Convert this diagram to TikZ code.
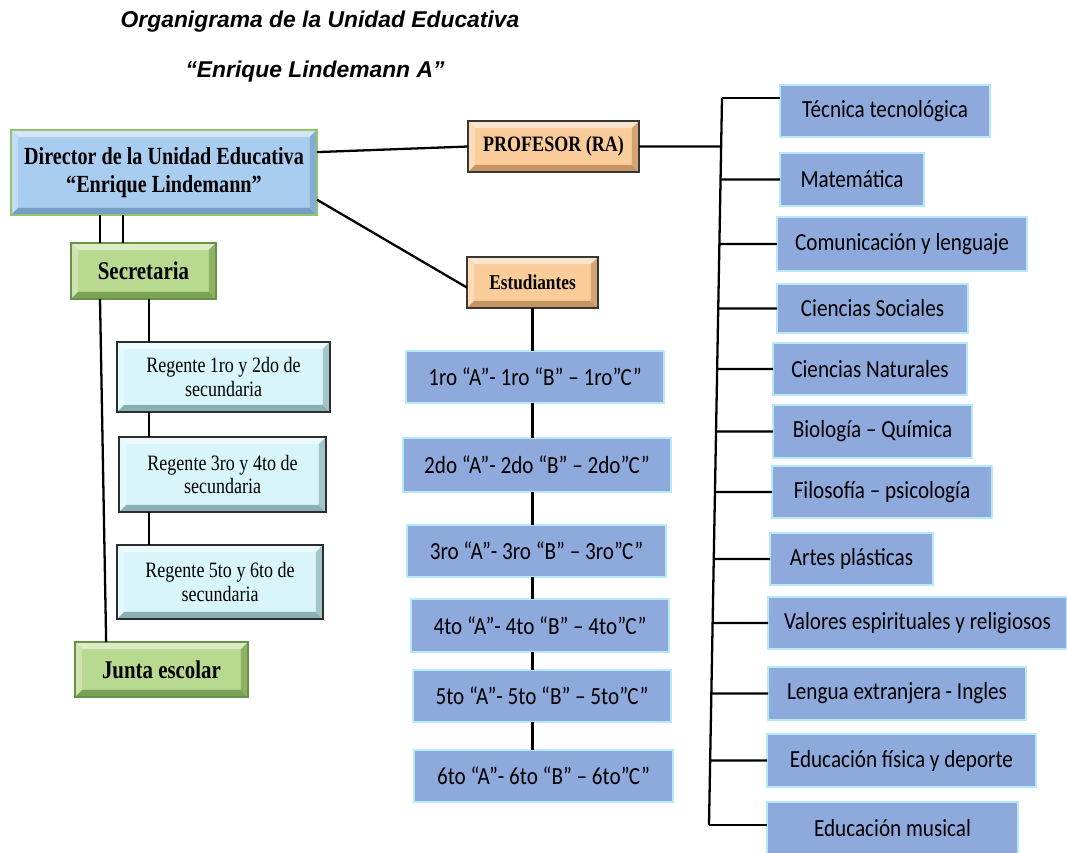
\documentclass[tikz,border=0pt]{standalone}
\usepackage{fontspec}
\usepackage{xcolor}
\usepackage{tikz}
\usetikzlibrary{calc,positioning}

\setmainfont{Liberation Serif}
\newfontfamily\orgserif[FakeStretch=0.82]{Liberation Serif}
\newfontfamily\orgcell[FakeStretch=0.86]{Carlito}
\newfontfamily\orgtitle{Liberation Sans}

\definecolor{dirfill}{RGB}{168,205,240}
\definecolor{dirline}{RGB}{146,198,110}
\definecolor{dirdark}{RGB}{118,158,196}
\definecolor{secfill}{RGB}{184,217,144}
\definecolor{secline}{RGB}{104,146,72}
\definecolor{secdark}{RGB}{122,162,86}
\definecolor{regfill}{RGB}{216,246,250}
\definecolor{regline}{RGB}{45,45,45}
\definecolor{regdark}{RGB}{138,176,180}
\definecolor{proffill}{RGB}{249,204,154}
\definecolor{profline}{RGB}{55,55,55}
\definecolor{profdark}{RGB}{196,148,98}
\definecolor{cellfill}{RGB}{142,169,219}
\definecolor{cellline}{RGB}{184,233,247}

\tikzset{
  bevel/.style n args={3}{draw=#1, fill=#2, line width=0.7pt, inner sep=0pt, outer sep=0pt, align=center,
    path picture={
      \path (path picture bounding box.north west) coordinate (bnw)
            (path picture bounding box.south east) coordinate (bse)
            (path picture bounding box.north east) coordinate (bne)
            (path picture bounding box.south west) coordinate (bsw);
      \fill[#2!50!white] (bnw) -- (bne) -- ($(bne)+(-4pt,-4pt)$) -- ($(bnw)+(4pt,-4pt)$) -- cycle;
      \fill[#2!70!white] (bnw) -- (bsw) -- ($(bsw)+(4pt,4pt)$) -- ($(bnw)+(4pt,-4pt)$) -- cycle;
      \fill[#3] (bsw) -- (bse) -- ($(bse)+(-4pt,4pt)$) -- ($(bsw)+(4pt,4pt)$) -- cycle;
      \fill[#3!70!#2] (bne) -- (bse) -- ($(bse)+(-4pt,4pt)$) -- ($(bne)+(-4pt,-4pt)$) -- cycle;
    }},
  headbox/.style={bevel={dirline}{dirfill}{dirdark}, font=\orgserif\bfseries\fontsize{14}{15.5}\selectfont},
  greenbox/.style={bevel={secline}{secfill}{secdark}, font=\orgserif\bfseries\fontsize{14.5}{16}\selectfont},
  regbox/.style={bevel={regline}{regfill}{regdark}, font=\orgserif\fontsize{12.5}{13.5}\selectfont},
  tanbox/.style={bevel={profline}{proffill}{profdark}, font=\orgserif\bfseries\fontsize{12.5}{14}\selectfont},
  cell/.style={draw=cellline, fill=cellfill, line width=0.8pt, inner sep=0pt, outer sep=0pt, font=\orgcell\fontsize{14}{16}\selectfont},
  link/.style={line width=1.3pt},
}

\begin{document}
\begin{tikzpicture}[x=0.02cm, y=-0.02cm]
    \useasboundingbox (0,0) rectangle (1067,852);

    \node [font=\orgtitle\bfseries\itshape\fontsize{13}{15}\selectfont] (title1) at (320,22) {Organigrama de la Unidad Educativa};
    \node [font=\orgtitle\bfseries\itshape\fontsize{13}{15}\selectfont] (title2) at (315,72) {“Enrique Lindemann A”};

    % left branch
    \node [headbox, minimum width=6.12cm, minimum height=1.7cm] (dir) at (164,172.5) {Director de la Unidad Educativa\\“Enrique Lindemann”};
    \node [greenbox, minimum width=2.9cm, minimum height=1.12cm] (sec) at (143.5,271) {Secretaria};
    \node [regbox, minimum width=4.26cm, minimum height=1.4cm] (reg1) at (223.5,377) {Regente 1ro y 2do de\\secundaria};
    \node [regbox, minimum width=4.14cm, minimum height=1.5cm] (reg2) at (222.5,474.5) {Regente 3ro y 4to de\\secundaria};
    \node [regbox, minimum width=4.12cm, minimum height=1.48cm] (reg3) at (220,582) {Regente 5to y 6to de\\secundaria};
    \node [greenbox, minimum width=3.46cm, minimum height=1.1cm] (jun) at (161.5,669.5) {Junta escolar};

    % middle
    \node [tanbox, minimum width=3.42cm, minimum height=1.02cm] (prof) at (553.5,146.5) {PROFESOR (RA)};
    \node [tanbox, minimum width=2.62cm, minimum height=1.02cm, font=\orgserif\bfseries\fontsize{12}{14}\selectfont] (est) at (532.5,282.5) {Estudiantes};

    \node [cell, minimum width=5.16cm, minimum height=1.04cm] (c1) at (535,377) {1ro “A”- 1ro “B” – 1ro”C”};
    \node [cell, minimum width=5.36cm, minimum height=1.08cm] (c2) at (537,465) {2do “A”- 2do “B” – 2do”C”};
    \node [cell, minimum width=5.18cm, minimum height=1.04cm] (c3) at (536.5,551) {3ro “A”- 3ro “B” – 3ro”C”};
    \node [cell, minimum width=5.16cm, minimum height=1.06cm] (c4) at (540,625.5) {4to “A”- 4to “B” – 4to”C”};
    \node [cell, minimum width=5.16cm, minimum height=1.04cm] (c5) at (542,696) {5to “A”- 5to “B” – 5to”C”};
    \node [cell, minimum width=5.18cm, minimum height=1.04cm] (c6) at (543.5,776) {6to “A”- 6to “B” – 6to”C”};

    % subjects
    \node [cell, minimum width=4.2cm, minimum height=1.04cm] (s1) at (885,111) {Técnica tecnológica};
    \node [cell, minimum width=2.88cm, minimum height=1.06cm] (s2) at (852,179.5) {Matemática};
    \node [cell, minimum width=5.0cm, minimum height=1.08cm] (s3) at (902,244) {Comunicación y lenguaje};
    \node [cell, minimum width=3.82cm, minimum height=0.98cm] (s4) at (872.5,308.5) {Ciencias Sociales};
    \node [cell, minimum width=3.88cm, minimum height=1.04cm] (s5) at (870,369) {Ciencias Naturales};
    \node [cell, minimum width=3.98cm, minimum height=1.06cm] (s6) at (872.5,431.5) {Biología – Química};
    \node [cell, minimum width=4.4cm, minimum height=1.04cm] (s7) at (882,492) {Filosofía – psicología};
    \node [cell, minimum width=3.26cm, minimum height=1.04cm] (s8) at (851.5,559) {Artes plásticas};
    \node [cell, minimum width=5.98cm, minimum height=1.04cm] (s9) at (917.5,623) {Valores espirituales y religiosos};
    \node [cell, minimum width=5.16cm, minimum height=1.06cm] (s10) at (897,693.5) {Lengua extranjera - Ingles};
    \node [cell, minimum width=5.38cm, minimum height=1.06cm] (s11) at (901.5,760.5) {Educación física y deporte};
    \node [cell, minimum width=5.02cm, minimum height=1.04cm] (s12) at (892.5,828) {Educación musical};

    % connectors
    \coordinate (sl1) at ($(sec.north west)!0.2!(sec.north east)$);
    \coordinate (sl2) at ($(sec.north west)!0.36!(sec.north east)$);
    \draw[link] (sl1 |- dir.south) -- (sl1);
    \draw[link] (sl2 |- dir.south) -- (sl2);
    \draw[link] ($(sec.south west)!0.2!(sec.south east)$) -- ($(jun.north west)!0.18!(jun.north east)$);

    \coordinate (rl) at ($(sec.south west)!0.54!(sec.south east)$);
    \draw[link] (rl) -- (rl |- reg1.north);
    \draw[link] (rl |- reg1.south) -- (rl |- reg2.north);
    \draw[link] (rl |- reg2.south) -- (rl |- reg3.north);

    \draw[link] ($(dir.north east)!0.26!(dir.south east)$) -- (prof.west);
    \draw[link] ($(dir.north east)!0.82!(dir.south east)$) -- ($(est.north west)!0.6!(est.south west)$);

    \draw[link] (est.south) -- (est.south |- c1.north);
    \draw[link] (c1.south -| est.south) -- (c2.north -| est.south);
    \draw[link] (c2.south -| est.south) -- (c3.north -| est.south);
    \draw[link] (c3.south -| est.south) -- (c4.north -| est.south);
    \draw[link] (c4.south -| est.south) -- (c5.north -| est.south);
    \draw[link] (c5.south -| est.south) -- (c6.north -| est.south);

    \coordinate (ttop) at (722,98);
    \coordinate (tbot) at (709,825);
    \draw[link] (ttop) -- (tbot);
    \draw[link] (prof.east) -- (intersection of ttop--tbot and prof.west--prof.east);
    \draw[link] (ttop) -- (ttop -| s1.west);
    \draw[link] (s2.west) -- (intersection of ttop--tbot and s2.west--s2.east);
    \draw[link] (s3.west) -- (intersection of ttop--tbot and s3.west--s3.east);
    \draw[link] (s4.west) -- (intersection of ttop--tbot and s4.west--s4.east);
    \draw[link] (s5.west) -- (intersection of ttop--tbot and s5.west--s5.east);
    \draw[link] (s6.west) -- (intersection of ttop--tbot and s6.west--s6.east);
    \draw[link] (s7.west) -- (intersection of ttop--tbot and s7.west--s7.east);
    \draw[link] (s8.west) -- (intersection of ttop--tbot and s8.west--s8.east);
    \draw[link] (s9.west) -- (intersection of ttop--tbot and s9.west--s9.east);
    \draw[link] (s10.west) -- (intersection of ttop--tbot and s10.west--s10.east);
    \draw[link] (s11.west) -- (intersection of ttop--tbot and s11.west--s11.east);
    \draw[link] (tbot) -- (tbot -| s12.west);
\end{tikzpicture}
\end{document}
